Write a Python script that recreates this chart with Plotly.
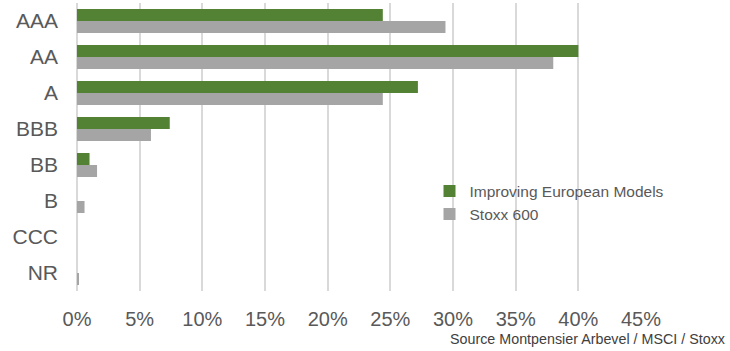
import plotly.graph_objects as go

# Rating breakdown (% of portfolio)
ratings = ["AAA", "AA", "A", "BBB", "BB", "B", "CCC", "NR"]
improving_models = [24.4, 40.0, 27.2, 7.4, 1.0, 0.0, 0.0, 0.0]
stoxx_600 = [29.4, 38.0, 24.4, 5.9, 1.6, 0.6, 0.0, 0.1]
x_ticks = [0, 5, 10, 15, 20, 25, 30, 35, 40, 45]
x_tick_labels = ["0%", "5%", "10%", "15%", "20%", "25%", "30%", "35%", "40%", "45%"]

GREEN = "#548235"
GREY = "#a5a5a5"
FONT = "'Liberation Sans', Arial, sans-serif"

fig = go.Figure()
fig.add_trace(go.Bar(
    y=ratings, x=improving_models, orientation="h",
    name="Improving European Models", marker=dict(color=GREEN, line=dict(width=0)),
))
fig.add_trace(go.Bar(
    y=ratings, x=stoxx_600, orientation="h",
    name="Stoxx 600", marker=dict(color=GREY, line=dict(width=0)),
))

fig.update_layout(
    width=730, height=351,
    margin=dict(l=77, r=89, t=3, b=60),
    paper_bgcolor="white", plot_bgcolor="white",
    barmode="group", bargap=0.333, bargroupgap=0,
    font=dict(family=FONT, color="#595959"),
    showlegend=True,
    legend=dict(
        x=0.625, y=0.405, xanchor="left", yanchor="top",
        font=dict(size=15.5, color="#595959", family=FONT),
        bgcolor="rgba(0,0,0,0)", tracegroupgap=0,
    ),
)

fig.update_xaxes(
    range=[0, 45], tickmode="array", tickvals=x_ticks, ticktext=x_tick_labels,
    showgrid=True, gridcolor="#d9d9d9", gridwidth=1.5,
    zeroline=True, zerolinecolor="#d9d9d9", zerolinewidth=1.5,
    showline=False, ticks="",
    tickfont=dict(size=20, color="#595959", family=FONT),
    ticklabelstandoff=14,
)
fig.update_yaxes(
    categoryorder="array", categoryarray=ratings, autorange="reversed",
    showgrid=False, zeroline=False, showline=False, ticks="",
    tickfont=dict(size=21, color="#595959", family=FONT),
    ticklabelstandoff=18,
)

fig.add_annotation(
    text="Source Montpensier Arbevel / MSCI / Stoxx",
    xref="paper", yref="paper", x=(727 - 77) / 564, y=(291 - 339) / 288,
    xanchor="right", yanchor="middle", showarrow=False,
    font=dict(size=14.3, color="#404040", family=FONT),
)

fig.write_html("out.html")
